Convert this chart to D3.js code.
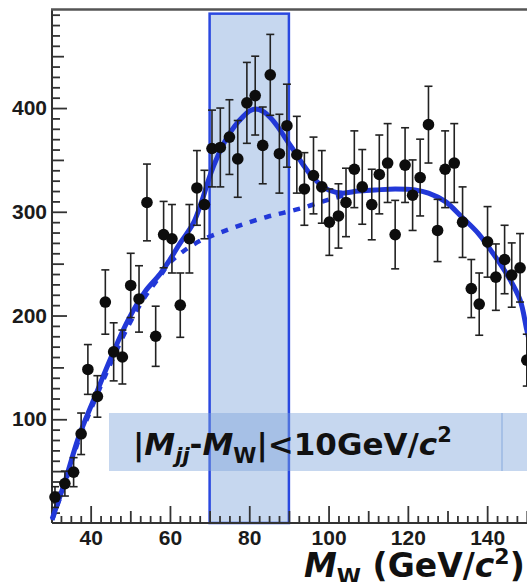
<!DOCTYPE html>
<html>
<head>
<meta charset="utf-8">
<script src="https://cdn.jsdelivr.net/npm/d3@7"></script>
<style>
  html, body { margin: 0; padding: 0; background: #ffffff; }
  svg { display: block; }
</style>
</head>
<body>
<svg id="chart" width="527" height="582"></svg>
<script>
// Dijet invariant mass spectrum: data points with statistical errors,
// total fit (signal + background) and background-only component.

const massBins = [31.0, 33.5, 35.7, 37.6, 39.3, 41.7, 43.7, 45.8, 48.0, 50.1,
                  52.2, 54.2, 56.4, 58.4, 60.5, 62.6, 64.9, 66.8, 68.7, 70.6,
                  72.7, 75.0, 77.1, 79.4, 81.5, 83.4, 85.3, 87.6, 89.5, 92.0,
                  93.9, 96.2, 98.3, 100.2, 102.5, 104.4, 106.5, 108.5, 110.9, 112.8,
                  114.9, 116.8, 119.3, 121.2, 123.1, 125.2, 127.5, 129.4, 131.7, 133.8,
                  136.0, 138.0, 140.1, 142.2, 144.4, 146.2, 148.3, 150.0];
const counts = [25, 38, 49, 86, 148, 122, 213, 165, 160, 229,
                216, 309, 180, 278, 274, 210, 274, 323, 307, 361,
                362, 372, 351, 405, 412, 364, 432, 356, 383, 355,
                322, 335, 324, 290, 296, 309, 341, 324, 307, 336,
                347, 278, 345, 316, 333, 384, 282, 341, 347, 290,
                226, 211, 271, 237, 254, 239, 246, 157];
const countErrors = [10, 12, 14, 20, 24, 20, 31, 28, 26, 31,
                     32, 37, 29, 32, 33, 31, 33, 36, 33, 37,
                     38, 36, 37, 39, 38, 37, 39, 38, 40, 37,
                     35, 37, 35, 32, 31, 33, 37, 36, 34, 38,
                     38, 33, 36, 34, 37, 37, 30, 37, 38, 34,
                     28, 30, 34, 32, 33, 31, 33, 25];

// Total fit curve
const fitMass  = [30.3, 33.6, 36.9, 41.1, 45.3, 49.5, 53.7, 57.5, 60.0, 62.6,
                  65.9, 68.0, 70.1, 72.2, 74.3, 76.4, 78.5, 80.0, 81.5, 83.4,
                  85.3, 87.2, 89.1, 91.6, 93.3, 95.0, 96.6, 98.3, 100.0, 103.4,
                  107.5, 111.8, 116.8, 121.8, 125.2, 129.4, 133.6, 137.8, 142.0, 145.4,
                  148.3, 150.0, 151.5];
const fitTotal = [4, 41, 82, 122, 161, 196, 223, 240, 254, 270,
                  289, 310, 335, 355, 371, 383, 392, 397, 399, 397,
                  391, 382, 371, 357, 347, 338, 331, 325, 321, 318,
                  320, 321, 322, 321, 318, 310, 295, 279, 257, 237,
                  215, 186, 160];

// Background-only component
const bkgMass   = [30.3, 33.6, 36.9, 41.1, 45.3, 49.5, 53.7, 57.5, 60.0, 63.4,
                   67.6, 72.7, 78.5, 84.4, 88.6, 92.8, 97.0, 101.2, 105.0];
const bkgValues = [3, 39, 79, 119, 156, 190, 218, 238, 251, 262,
                   272, 280, 288, 295, 299, 303, 308, 313, 317];

const xTickValues = [40, 60, 80, 100, 120, 140];
const yTickValues = [100, 200, 300, 400];

// Mass window |Mjj - MW| < 10 GeV/c^2 around MW = 80
const wMass = 80;
const windowHalfWidth = 10;
const windowTop = 491;

const svg = d3.select("#chart");

const x = d3.scaleLinear().domain([30.25, 150]).range([52, 526.8]);
const y = d3.scaleLinear().domain([0, 495]).range([523, 9.5]);

const blue = "#2238d8";
const tickFont = "'Liberation Sans', Arial, sans-serif";
const labelFont = "'DejaVu Sans', Verdana, sans-serif";
const bandFill = "rgb(125,164,219)";

// Mass window band
svg.append("rect")
  .attr("x", x(wMass - windowHalfWidth))
  .attr("y", y(windowTop))
  .attr("width", x(wMass + windowHalfWidth) - x(wMass - windowHalfWidth))
  .attr("height", y(0) - y(windowTop))
  .attr("fill", bandFill)
  .attr("fill-opacity", 0.44)
  .attr("stroke", "#2a48e0")
  .attr("stroke-width", 2.5);

// Axes: minor, medium and major ticks drawn inward
function styleAxis(g) {
  g.select(".domain").remove();
  g.selectAll(".tick line").attr("stroke", "#333").attr("stroke-width", 1.8);
  g.selectAll(".tick text")
    .attr("font-family", tickFont).attr("font-weight", "bold")
    .attr("font-size", 21).attr("fill", "#1b1b1b");
}
function yAxis(vals, len, labels) {
  const a = d3.axisLeft(y).tickValues(vals).tickSizeInner(-len).tickSizeOuter(0).tickPadding(5);
  if (!labels) a.tickFormat("");
  svg.append("g").attr("transform", `translate(${x.range()[0]},0)`).call(a).call(styleAxis);
}
function xAxis(vals, len, labels) {
  const a = d3.axisBottom(x).tickValues(vals).tickSizeInner(-len).tickSizeOuter(0).tickPadding(7);
  if (!labels) a.tickFormat("");
  svg.append("g").attr("transform", `translate(0,${y(0)})`).call(a).call(styleAxis);
}

yAxis(d3.range(10, 495, 10).filter(v => v % 50 !== 0), 8, false);
yAxis(d3.range(50, 495, 100), 12, false);
yAxis(yTickValues, 15, true);

xAxis(d3.range(32.5, 155, 2.5).filter(v => v % 10 !== 0), 7, false);
xAxis(d3.range(30, 155, 20).filter(v => v > 30.25), 12, false);
xAxis(xTickValues, 17, true);

// Frame lines
svg.append("line")
  .attr("x1", x.range()[0]).attr("x2", 527)
  .attr("y1", y(0)).attr("y2", y(0))
  .attr("stroke", "#333").attr("stroke-width", 2);
svg.append("line")
  .attr("x1", x.range()[0]).attr("x2", x.range()[0])
  .attr("y1", y.range()[1]).attr("y2", y(0))
  .attr("stroke", "#333").attr("stroke-width", 2);
svg.append("line")
  .attr("x1", x.range()[0] - 1).attr("x2", 527)
  .attr("y1", y.range()[1]).attr("y2", y.range()[1])
  .attr("stroke", "#555").attr("stroke-width", 2.5);

// Cut annotation box (two panels that overlap slightly at the seam)
const boxG = svg.append("g");
boxG.append("rect")
  .attr("x", 109).attr("y", 413).attr("width", 394).attr("height", 58)
  .attr("fill", bandFill).attr("fill-opacity", 0.44);
boxG.append("rect")
  .attr("x", 501).attr("y", 413).attr("width", 40).attr("height", 58)
  .attr("fill", bandFill).attr("fill-opacity", 0.44);

const cutText = boxG.append("text")
  .attr("x", 133).attr("y", 455)
  .attr("font-family", labelFont).attr("font-weight", "bold")
  .attr("font-size", 31).attr("fill", "#111");
cutText.append("tspan").text("|");
cutText.append("tspan").attr("font-style", "italic").text("M");
cutText.append("tspan").attr("font-style", "italic").attr("font-size", 21).attr("dy", 8).text("jj");
cutText.append("tspan").attr("dy", -8).text("-");
cutText.append("tspan").attr("font-style", "italic").text("M");
cutText.append("tspan").attr("font-size", 21).attr("dy", 8).text("W");
cutText.append("tspan").attr("dy", -8).text("|<10GeV/");
cutText.append("tspan").attr("font-style", "italic").text("c");
cutText.append("tspan").attr("font-size", 21).attr("dy", -13).text("2");

// Background (dashed) and total fit (solid)
const lineGen = d3.line().curve(d3.curveCatmullRom.alpha(0.5));
svg.append("path")
  .attr("d", lineGen(bkgMass.map((m, i) => [x(m), y(bkgValues[i])])))
  .attr("fill", "none").attr("stroke", blue).attr("stroke-width", 4.5)
  .attr("stroke-dasharray", "7,8");
svg.append("path")
  .attr("d", lineGen(fitMass.map((m, i) => [x(m), y(fitTotal[i])])))
  .attr("fill", "none").attr("stroke", blue).attr("stroke-width", 5)
  .attr("stroke-linejoin", "round");

// Data points with error bars
const pts = svg.append("g").selectAll("g").data(massBins).join("g");
pts.append("line")
  .attr("x1", (d) => x(d)).attr("x2", (d) => x(d))
  .attr("y1", (d, i) => y(counts[i] - countErrors[i]))
  .attr("y2", (d, i) => y(counts[i] + countErrors[i]))
  .attr("stroke", "#222").attr("stroke-width", 1.6);
[1, -1].forEach(s => {
  pts.append("line")
    .attr("x1", (d) => x(d) - 4).attr("x2", (d) => x(d) + 4)
    .attr("y1", (d, i) => y(counts[i] + s * countErrors[i]))
    .attr("y2", (d, i) => y(counts[i] + s * countErrors[i]))
    .attr("stroke", "#222").attr("stroke-width", 1.6);
});
pts.append("circle")
  .attr("cx", (d) => x(d)).attr("cy", (d, i) => y(counts[i]))
  .attr("r", 5.8).attr("fill", "#0d0d0d");

// Axis title
const xTitle = svg.append("text")
  .attr("x", 304).attr("y", 577)
  .attr("font-family", labelFont).attr("font-weight", "bold")
  .attr("font-size", 33).attr("fill", "#111");
xTitle.append("tspan").attr("font-style", "italic").text("M");
xTitle.append("tspan").attr("font-size", 22).attr("dy", 7).text("W");
xTitle.append("tspan").attr("dy", -7).text(" (GeV/");
xTitle.append("tspan").attr("font-style", "italic").text("c");
xTitle.append("tspan").attr("font-size", 22).attr("dy", -13).text("2");
xTitle.append("tspan").attr("dy", 13).text(")");
</script>
</body>
</html>
